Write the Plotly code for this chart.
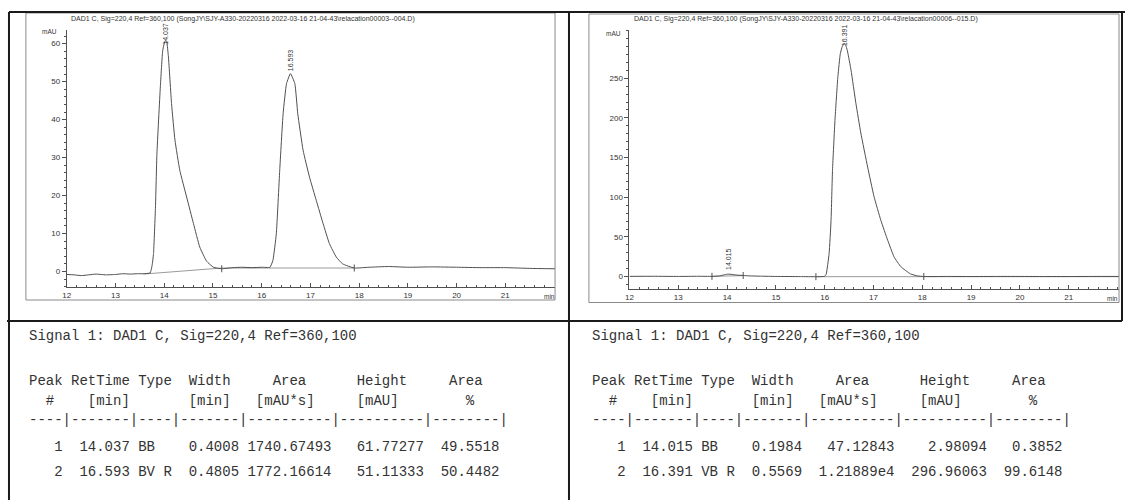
import math
import plotly.graph_objects as go

W, H = 1125, 500

# ---------------- Chromatogram 1 (relacation00003--004.D) ----------------
t1 = [12.00, 12.15, 12.30, 12.45, 12.60, 12.80, 13.00, 13.15, 13.30, 13.45, 13.57, 13.71, 13.75, 13.78,
      13.82, 13.85, 13.92, 13.97, 14.02, 14.05, 14.086, 14.15, 14.22, 14.32, 14.46, 14.60, 14.73,
      14.87, 15.01, 15.18, 15.40, 15.60, 15.80, 16.00, 16.17, 16.23, 16.30, 16.37, 16.44, 16.51,
      16.59, 16.68, 16.74, 16.85, 16.98, 17.12, 17.26, 17.39, 17.53, 17.66, 17.90, 18.20, 18.60,
      19.00, 19.50, 20.00, 20.50, 21.00, 21.50, 22.02]
s1 = [-0.8, -0.9, -1.1, -0.9, -0.7, -0.9, -0.8, -0.6, -0.7, -0.6, -0.6, -0.4, 1.5, 4.7,
      17.0, 31.0, 48.6, 58.3, 60.8, 60.5, 56.5, 44.2, 34.6, 26.6, 19.6, 12.6, 6.4,
      2.7, 1.1, 0.7, 1.0, 1.1, 1.0, 1.1, 1.1, 2.9, 9.9, 26.6, 41.6, 49.5,
      52.1, 49.5, 41.6, 31.9, 24.9, 18.7, 12.6, 7.3, 3.8, 2.0, 0.9, 1.1, 1.3,
      1.1, 1.2, 1.1, 1.0, 1.0, 0.8, 0.7]
base1_t = [13.57, 15.18, 17.90]
base1_v = [-0.7, 0.9, 0.9]
marks1_t = [15.18, 17.90]
marks1_v = [0.7, 0.9]
peak_rt1 = [14.037, 16.593]
apex1 = [60.8, 52.1]

# ---------------- Chromatogram 2 (relacation00006--015.D) ----------------
t2 = [12.00, 12.50, 13.00, 13.40, 13.69, 13.85, 13.95, 14.02, 14.10, 14.20, 14.33, 14.45, 14.70,
      15.00, 15.50, 15.82, 16.00, 16.03, 16.09, 16.13, 16.16, 16.21, 16.27, 16.32, 16.36, 16.40,
      16.44, 16.47, 16.54, 16.64, 16.74, 16.88, 17.01, 17.15, 17.29, 17.42, 17.56, 17.76, 17.90,
      18.03, 18.50, 19.00, 19.50, 20.00, 20.50, 21.00, 21.50, 22.03]
s2 = [0.4, 0.5, 0.3, 0.5, 0.4, 1.0, 2.5, 3.2, 2.8, 2.0, 1.5, 1.0, 0.6,
      0.3, 0.1, 0.0, 0.5, 3.0, 29.0, 71.0, 134.0, 197.0, 252.0, 281.0, 290.0, 294.0,
      290.0, 283.0, 260.0, 218.0, 181.0, 138.0, 101.0, 71.0, 46.0, 25.0, 12.6, 3.4, 1.0,
      0.2, 0.3, 0.2, 0.3, 0.3, 0.2, 0.2, 0.3, 0.3]
base2_t = [13.69, 14.33, None, 15.82, 18.03, 22.03]
base2_v = [0.4, 1.3, None, 0.0, 0.0, 0.0]
marks2_t = [13.69, 14.33, 15.82, 18.03]
marks2_v = [0.4, 1.5, 0.0, 0.2]
peak_rt2 = [14.015, 16.391]
apex2 = [3.2, 294.0]

# ---------------- Integration tables ----------------
peak_no = [1, 2]
rt_a = [14.037, 16.593]
type_a = ["BB", "BV R"]
width_a = [0.4008, 0.4805]
area_a = [1740.67493, 1772.16614]
height_a = [61.77277, 51.11333]
pct_a = [49.5518, 50.4482]

rt_b = [14.015, 16.391]
type_b = ["BB", "VB R"]
width_b = [0.1984, 0.5569]
area_b = [47.12843, 12188.9]
height_b = [2.98094, 296.96063]
pct_b = [0.3852, 99.6148]

signal_line = "Signal 1: DAD1 C, Sig=220,4 Ref=360,100"
head1 = "Peak" + " " + "RetTime" + " " + "Type" + " " * 2 + "Width" + " " * 5 + "Area" + " " * 6 + "Height" + " " * 5 + "Area"
head2 = "  #" + " " * 4 + "[min]" + " " * 7 + "[min]" + " " * 3 + "[mAU*s]" + " " * 5 + "[mAU]" + " " * 8 + "%"
dash_line = "----|-------|----|-------|----------|----------|--------|"

titles = [
    "DAD1 C, Sig=220,4 Ref=360,100 (SongJY\\SJY-A330-20220316 2022-03-16 21-04-43\\relacation00003--004.D)",
    "DAD1 C, Sig=220,4 Ref=360,100 (SongJY\\SJY-A330-20220316 2022-03-16 21-04-43\\relacation00006--015.D)",
]


def fmt_area(a):
    s = f"{a:.5f}"
    if len(s) > 10:
        e = int(math.floor(math.log10(a)))
        s = f"{a / 10 ** e:.5f}e{e}"
    return s


def rows(rt, typ, wd, ar, ht, pc):
    out = []
    for n, r, ty, w, a, h, p in zip(peak_no, rt, typ, wd, ar, ht, pc):
        out.append(f"{n:4d} {r:7.3f} {ty:<4s} {w:7.4f} {fmt_area(a):>10s} {h:10.5f} {p:8.4f}")
    return out


def px(x):
    return x / W


def py(y):
    return 1 - y / H


LINE = "#505050"
TXT = "#333333"
fig = go.Figure()

mk = dict(symbol="line-ns-open", size=5, color=LINE, line=dict(color=LINE, width=1))
fig.add_trace(go.Scatter(x=base1_t, y=base1_v, mode="lines", line=dict(color="#9a9a9a", width=1),
                         xaxis="x", yaxis="y", hoverinfo="skip"))
fig.add_trace(go.Scatter(x=t1, y=s1, mode="lines", line=dict(color=LINE, width=1, shape="spline", smoothing=0.4),
                         xaxis="x", yaxis="y"))
fig.add_trace(go.Scatter(x=marks1_t, y=marks1_v, mode="markers", marker=mk, xaxis="x", yaxis="y"))
fig.add_trace(go.Scatter(x=base2_t, y=base2_v, mode="lines", line=dict(color="#9a9a9a", width=1),
                         xaxis="x2", yaxis="y2", hoverinfo="skip"))
fig.add_trace(go.Scatter(x=t2, y=s2, mode="lines", line=dict(color=LINE, width=1, shape="spline", smoothing=0.4),
                         xaxis="x2", yaxis="y2"))
fig.add_trace(go.Scatter(x=marks2_t, y=marks2_v, mode="markers", marker=mk, xaxis="x2", yaxis="y2"))

tickfont = dict(family="Liberation Sans, Arial", size=8, color=TXT)


def xax(dom, rng, anchor):
    return dict(domain=dom, range=rng, anchor=anchor, showline=True, linecolor=LINE, linewidth=1,
                ticks="inside", ticklen=4, tickcolor=LINE, tickmode="array",
                tickvals=list(range(12, 22)), tickfont=tickfont, showgrid=False, zeroline=False,
                minor=dict(ticks="inside", ticklen=2, tickcolor=LINE, tickmode="linear", tick0=12, dtick=0.2),
                fixedrange=True)


def yax(dom, rng, vals, mdt, anchor):
    return dict(domain=dom, range=rng, showline=True, linecolor=LINE, linewidth=1, anchor=anchor,
                ticks="outside", ticklen=4, tickcolor=LINE, tickmode="array", tickvals=vals,
                tickfont=tickfont, showgrid=False, zeroline=False,
                minor=dict(ticks="outside", ticklen=2, tickcolor=LINE, tickmode="linear", tick0=0, dtick=mdt),
                fixedrange=True)


shapes = []
for (x0, y0, x1, y1) in [(22, 13, 553, 300), (587, 14, 1119, 302.5)]:
    shapes.append(dict(type="rect", xref="paper", yref="paper", x0=px(x0), x1=px(x1), y0=py(y1), y1=py(y0),
                       line=dict(color="#8a8a8a", width=1)))
grid = [(5, 12, 1125, 12), (5, 12, 5, 500), (567, 12, 567, 500), (1122, 12, 1122, 321), (3, 321, 1122, 321)]
for (x0, y0, x1, y1) in grid:
    shapes.append(dict(type="line", xref="paper", yref="paper", x0=px(x0), x1=px(x1), y0=py(y0), y1=py(y1),
                       line=dict(color="#1a1a1a", width=2)))

ann = []
small = dict(family="Liberation Sans, Arial", size=7, color=TXT)
for tx, ttl in zip([65, 630], titles):
    ann.append(dict(xref="paper", yref="paper", x=px(tx), y=py(19), text=ttl, showarrow=False,
                    xanchor="left", yanchor="middle", font=small))
for (ax, ay, txt) in [(46, 31, "mAU"), (612, 33, "mAU"), (547, 296, "min"), (1112, 298, "min")]:
    ann.append(dict(xref="paper", yref="paper", x=px(ax), y=py(ay), text=txt, showarrow=False,
                    xanchor="center", yanchor="middle",
                    font=dict(family="Liberation Sans, Arial", size=6.5, color=TXT)))
for rts, tops, xr, yr, shifts in [(peak_rt1, apex1, "x", "y", [-6, 0]), (peak_rt2, apex2, "x2", "y2", [2, -5])]:
    for r, top, sh in zip(rts, tops, shifts):
        ann.append(dict(xref=xr, yref=yr, x=r, y=top, text=f"{r:.3f}", textangle=-90, showarrow=False,
                        xanchor="center", yanchor="bottom", yshift=sh, font=small))

mono = dict(family="Liberation Mono, Courier New, monospace", size=14, color=TXT)
lines_a = [signal_line, head1, head2, dash_line] + rows(rt_a, type_a, width_a, area_a, height_a, pct_a)
lines_b = [signal_line, head1, head2, dash_line] + rows(rt_b, type_b, width_b, area_b, height_b, pct_b)
line_y = [336, 381, 401, 420, 447, 472]
for lx, lines in [(23, lines_a), (588, lines_b)]:
    for yy, txt in zip(line_y, lines):
        ann.append(dict(xref="paper", yref="paper", x=px(lx), y=py(yy), text=txt.replace(" ", "\u00a0"),
                        showarrow=False, xanchor="left", yanchor="middle", font=mono))

fig.update_layout(
    width=W, height=H, autosize=False,
    margin=dict(l=0, r=0, t=0, b=0),
    paper_bgcolor="white", plot_bgcolor="rgba(0,0,0,0)",
    showlegend=False,
    xaxis=xax([px(63), px(553)], [12, 22.02], "y"),
    yaxis=yax([py(287), py(30)], [-4.1, 63.6], [0, 10, 20, 30, 40, 50, 60], 2, "x"),
    xaxis2=xax([px(627.7), px(1119)], [12, 22.03], "y2"),
    yaxis2=yax([py(289.3), py(30)], [-15.9, 310.7], [0, 50, 100, 150, 200, 250], 10, "x2"),
    shapes=shapes,
    annotations=ann,
)

fig.write_html("out.html", config={"displayModeBar": False},
               post_script="document.body.style.margin='0';document.body.style.overflow='hidden';")
